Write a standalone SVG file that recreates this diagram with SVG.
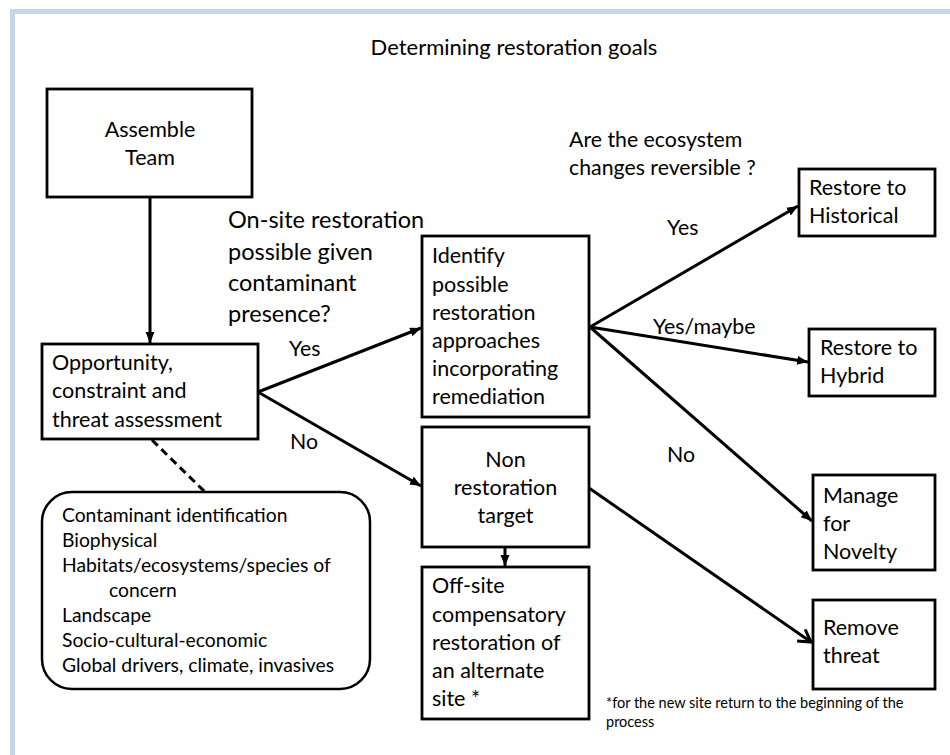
<svg xmlns="http://www.w3.org/2000/svg" width="950" height="755" viewBox="0 0 950 755">
<defs>
<style>
text{font-family:Lato,"Liberation Sans",sans-serif;fill:#000}
.box{fill:#fff;stroke:#000;stroke-width:2.8}
.bt{font-size:21.5px}
.q{font-size:23.5px}
.lbl{font-size:21.3px}
.lst{font-size:19.3px}
.fn{font-size:14.5px}
.c{stroke:#000;stroke-width:3;fill:none}
</style>
<marker id="ah" markerUnits="userSpaceOnUse" markerWidth="12" markerHeight="10" refX="11" refY="4.5" orient="auto">
<path d="M0,0 L11,4.5 L0,9 z" fill="#000"/>
</marker>
<marker id="ao" markerUnits="userSpaceOnUse" markerWidth="16" markerHeight="18" refX="13" refY="8" orient="auto">
<path d="M1,1 L13,8 L1,15" fill="none" stroke="#000" stroke-width="3"/>
</marker>
</defs>
<rect width="950" height="755" fill="#fff"/>
<path d="M10,9 H950 V14 H15 V755 H10 Z" fill="#c6d4ec"/>
<text x="514" y="55" text-anchor="middle" style="font-size:22px">Determining restoration goals</text>

<g id="connectors">
<path class="c" d="M150,197 L150,343" marker-end="url(#ah)"/>
<path class="c" d="M258,392 L421,328" marker-end="url(#ah)"/>
<path class="c" d="M258,392 L421,486" marker-end="url(#ah)"/>
<path class="c" d="M152,440 L205,492" stroke-dasharray="8,5"/>
<path class="c" d="M505,547 L505,566" marker-end="url(#ah)"/>
<path class="c" d="M590,327 L798,206" marker-end="url(#ah)"/>
<path class="c" d="M590,327 L808,362" marker-end="url(#ah)"/>
<path class="c" d="M590,327 L812,521" marker-end="url(#ah)"/>
<path class="c" d="M589,488 L811,642" marker-end="url(#ao)"/>
</g>

<g id="assemble">
<rect class="box" x="47" y="89" width="205" height="108"/>
<text class="bt" x="150" y="137" text-anchor="middle">Assemble</text>
<text class="bt" x="150" y="165" text-anchor="middle">Team</text>
</g>

<g id="assessment">
<rect class="box" x="42" y="344" width="216" height="95"/>
<text class="bt" x="52" y="370">Opportunity,</text>
<text class="bt" x="52" y="398">constraint and</text>
<text class="bt" x="52" y="427">threat assessment</text>
</g>

<g id="question1">
<text class="q" x="228" y="228">On-site restoration</text>
<text class="q" x="228" y="260">possible given</text>
<text class="q" x="228" y="291">contaminant</text>
<text class="q" x="228" y="322">presence?</text>
</g>
<text class="lbl" x="289" y="356">Yes</text>
<text class="lbl" x="290" y="449">No</text>

<g id="factors">
<rect class="box" x="42" y="492" width="328" height="197" rx="30" ry="30" style="stroke-width:2.5"/>
<text class="lst" x="62" y="522">Contaminant identification</text>
<text class="lst" x="62" y="547">Biophysical</text>
<text class="lst" x="62" y="572">Habitats/ecosystems/species of</text>
<text class="lst" x="109" y="597">concern</text>
<text class="lst" x="62" y="622">Landscape</text>
<text class="lst" x="62" y="647">Socio-cultural-economic</text>
<text class="lst" x="62" y="672">Global drivers, climate, invasives</text>
</g>

<g id="identify">
<rect class="box" x="422" y="236" width="167" height="181"/>
<text class="bt" x="432" y="263">Identify</text>
<text class="bt" x="432" y="292">possible</text>
<text class="bt" x="432" y="320">restoration</text>
<text class="bt" x="432" y="348">approaches</text>
<text class="bt" x="432" y="376">incorporating</text>
<text class="bt" x="432" y="404">remediation</text>
</g>

<g id="nonrestoration">
<rect class="box" x="422" y="427" width="167" height="120"/>
<text class="bt" x="505.5" y="467" text-anchor="middle">Non</text>
<text class="bt" x="505.5" y="495" text-anchor="middle">restoration</text>
<text class="bt" x="505.5" y="523" text-anchor="middle">target</text>
</g>

<g id="offsite">
<rect class="box" x="422" y="567" width="167" height="152"/>
<text class="bt" x="432" y="593">Off-site</text>
<text class="bt" x="432" y="622">compensatory</text>
<text class="bt" x="432" y="650">restoration of</text>
<text class="bt" x="432" y="678">an alternate</text>
<text class="bt" x="432" y="706">site *</text>
</g>

<g id="question2">
<text class="lbl" x="569" y="147">Are the ecosystem</text>
<text class="lbl" x="569" y="175">changes reversible ?</text>
</g>
<text class="lbl" x="667" y="235">Yes</text>
<text class="lbl" x="653" y="334">Yes/maybe</text>
<text class="lbl" x="667" y="462">No</text>

<g id="historical">
<rect class="box" x="799" y="169" width="136" height="67"/>
<text class="bt" x="809" y="195">Restore to</text>
<text class="bt" x="809" y="223">Historical</text>
</g>

<g id="hybrid">
<rect class="box" x="809" y="329" width="126" height="67"/>
<text class="bt" x="820" y="355">Restore to</text>
<text class="bt" x="820" y="383">Hybrid</text>
</g>

<g id="novelty">
<rect class="box" x="813" y="475" width="122" height="95"/>
<text class="bt" x="823" y="503">Manage</text>
<text class="bt" x="823" y="531">for</text>
<text class="bt" x="823" y="559">Novelty</text>
</g>

<g id="removethreat">
<rect class="box" x="813" y="600" width="122" height="89"/>
<text class="bt" x="823" y="635">Remove</text>
<text class="bt" x="823" y="663">threat</text>
</g>

<g id="footnote">
<text class="fn" x="606" y="708">*for the new site return to the beginning of the</text>
<text class="fn" x="606" y="727">process</text>
</g>
</svg>
